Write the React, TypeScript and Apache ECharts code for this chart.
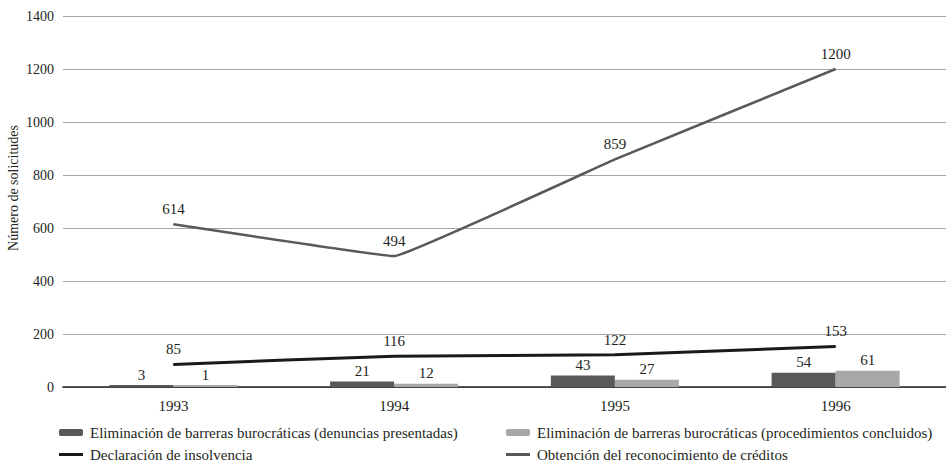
import React, { useEffect, useRef } from "react";
import * as echarts from "echarts";

const years = ["1993", "1994", "1995", "1996"];
const denuncias = [3, 21, 43, 54];
const procedimientos = [1, 12, 27, 61];
const insolvencia = [85, 116, 122, 153];
const creditos = [614, 494, 859, 1200];

const names = [
  "Eliminación de barreras burocráticas (denuncias presentadas)",
  "Eliminación de barreras burocráticas (procedimientos concluidos)",
  "Declaración de insolvencia",
  "Obtención del reconocimiento de créditos",
];
const yAxisTitle = "Número de solicitudes";

const FONT = "Liberation Serif";
const TXT = "#231f20";
const lineIcon = "path://M0,0 L24,0 L24,3 L0,3 Z";

export default function App() {
  const ref = useRef<HTMLDivElement>(null);
  useEffect(() => {
    const chart = echarts.init(ref.current!, null, { renderer: "svg" });
    const labelStyle = { show: true, color: TXT, fontFamily: FONT, fontSize: 15 };
    const legendBase = {
      itemWidth: 24,
      itemHeight: 7,
      itemGap: 0,
      padding: 0,
      textStyle: { color: TXT, fontFamily: FONT, fontSize: 15, padding: [0, 0, 0, 2] },
    };
    chart.setOption({
      animation: false,
      textStyle: { fontFamily: FONT },
      grid: { left: 63, right: -5, top: 16, bottom: 81, containLabel: false },
      graphic: [
        {
          type: "text",
          x: 13,
          y: 188,
          rotation: Math.PI / 2,
          style: {
            text: yAxisTitle,
            fontFamily: FONT,
            fontSize: 14,
            fill: TXT,
            align: "center",
            verticalAlign: "middle",
          },
        },
      ],
      xAxis: {
        type: "category",
        data: years,
        axisLine: { lineStyle: { color: "#231f20", width: 1.5 } },
        axisTick: { show: false },
        axisLabel: { color: TXT, fontFamily: FONT, fontSize: 15, margin: 11 },
      },
      yAxis: {
        type: "value",
        min: 0,
        max: 1400,
        interval: 200,
        axisLine: { show: false },
        axisTick: { show: false },
        axisLabel: {
          color: TXT,
          fontFamily: FONT,
          fontSize: 14,
          margin: 9,
          formatter: (v: number) => String(v),
        },
        splitLine: { lineStyle: { color: "#a6a6a6", width: 1 } },
      },
      legend: [
        { ...legendBase, left: 59, top: 425, data: [names[0]] },
        { ...legendBase, left: 506, top: 425, data: [names[1]] },
        { ...legendBase, left: 59, top: 447, data: [{ name: names[2], icon: lineIcon }] },
        { ...legendBase, left: 506, top: 447, data: [{ name: names[3], icon: lineIcon }] },
      ],
      series: [
        {
          name: names[0],
          type: "bar",
          data: denuncias,
          barWidth: 64,
          barGap: "0%",
          barMinHeight: 2,
          itemStyle: { color: "#58595b" },
          label: { ...labelStyle, position: "top", distance: 3 },
        },
        {
          name: names[1],
          type: "bar",
          data: procedimientos,
          barWidth: 64,
          barGap: "0%",
          barMinHeight: 2,
          itemStyle: { color: "#a7a8aa" },
          label: { ...labelStyle, position: "top", distance: 3 },
        },
        {
          name: names[2],
          type: "line",
          data: insolvencia,
          smooth: 0.15,
          symbol: "circle",
          symbolSize: 1,
          lineStyle: { color: "#1a1a1a", width: 3 },
          itemStyle: { color: "#1a1a1a" },
          label: { ...labelStyle, position: "top", distance: 7 },
          z: 5,
        },
        {
          name: names[3],
          type: "line",
          data: creditos,
          smooth: 0.05,
          symbol: "circle",
          symbolSize: 1,
          lineStyle: { color: "#58595b", width: 2.5 },
          itemStyle: { color: "#58595b" },
          label: { ...labelStyle, position: "top", distance: 7 },
          z: 5,
        },
      ],
    });
    return () => chart.dispose();
  }, []);
  return <div ref={ref} style={{ width: 946, height: 468, position: "absolute", left: 0, top: 0 }} />;
}
